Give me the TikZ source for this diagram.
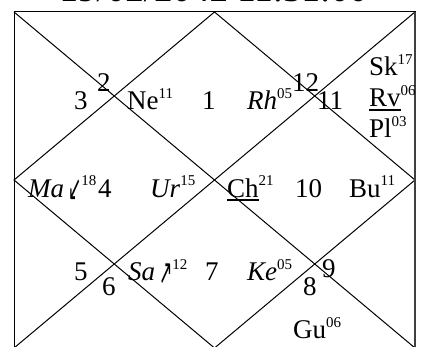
\documentclass[tikz,border=0pt]{standalone}
\usepackage{graphicx}
\usepackage{fontspec}
\setmainfont{Liberation Serif}
\newfontfamily\arrowfont{DejaVu Sans}
\newcommand\up[1]{\raisebox{11pt}{\fontsize{15}{15}\selectfont #1}}
\newcommand\ulx[1]{\setbox0\hbox{#1}\rlap{\rule[-4pt]{\wd0}{1.8pt}}\box0}
\newcommand\arw[1]{\raisebox{-4pt}{\scalebox{0.72}[1.6]{\arrowfont\fontsize{22}{22}\selectfont #1}}}
\begin{document}
\begin{tikzpicture}[x=1pt,y=-1pt,
  txt/.style={inner sep=0pt,anchor=base west,font=\fontsize{27}{30}\selectfont},
  chart/.style={line width=1pt,draw=black}]
\useasboundingbox (0,0) rectangle (425,347);
\clip (0,0) rectangle (425,347);
\node[inner sep=0pt,anchor=base,font=\fontsize{37}{40}\selectfont] (title) at (213.5,1.5) {19/02/2042 11:31:00};
\coordinate (TL) at (14,12);
\coordinate (TR) at (415,12);
\coordinate (BL) at (14,348);
\coordinate (BR) at (415,348);
\coordinate (TM) at (214.5,12);
\coordinate (BM) at (214.5,348);
\coordinate (LM) at (14,180);
\coordinate (RM) at (415,180);
\draw[chart] (TL) -- (TR) -- (BR) -- (BL) -- cycle;
\draw[chart] (TL) -- (BR);
\draw[chart] (TR) -- (BL);
\draw[chart] (TM) -- (RM) -- (BM) -- (LM) -- cycle;
\draw[line width=1.6pt,draw=black!75] (TR) -- (BR);
% house numbers
\node[txt] (h2) at (97,92) {2};
\node[txt] (h3) at (74,110) {3};
\node[txt] (h1) at (202,110) {1};
\node[txt] (h12) at (292,92) {12};
\node[txt] (h11) at (317,110) {11};
\node[txt] (h4) at (98,197) {4};
\node[txt] (h10) at (295,197) {10};
\node[txt] (h5) at (74,280) {5};
\node[txt] (h6) at (102,295) {6};
\node[txt] (h7) at (205,280) {7};
\node[txt] (h8) at (303,295) {8};
\node[txt] (h9) at (322,277) {9};
% planets
\node[txt] (ne) at (127,110) {Ne\up{11}};
\node[txt] (rh) at (247,110) {\textit{Rh}\up{05}};
\node[txt] (sk) at (369,76) {Sk\up{17}};
\node[txt] (rv) at (369,107) {\ulx{Rv}\up{06}};
\node[txt] (pl) at (369,138) {Pl\up{03}};
\node[txt] (ma) at (28,197) {\textit{Ma}\kern4pt\arw{↙}\up{18}};
\node[txt] (ur) at (150,197) {\textit{Ur}\up{15}};
\node[txt] (ch) at (227,197) {\ulx{Ch}\up{21}};
\node[txt] (bu) at (349,197) {Bu\up{11}};
\node[txt] (sa) at (128,280) {\textit{Sa}\kern4pt\arw{↗}\up{12}};
\node[txt] (ke) at (247,280) {\textit{Ke}\up{05}};
\node[txt] (gu) at (293,338) {Gu\up{06}};
\end{tikzpicture}
\end{document}
